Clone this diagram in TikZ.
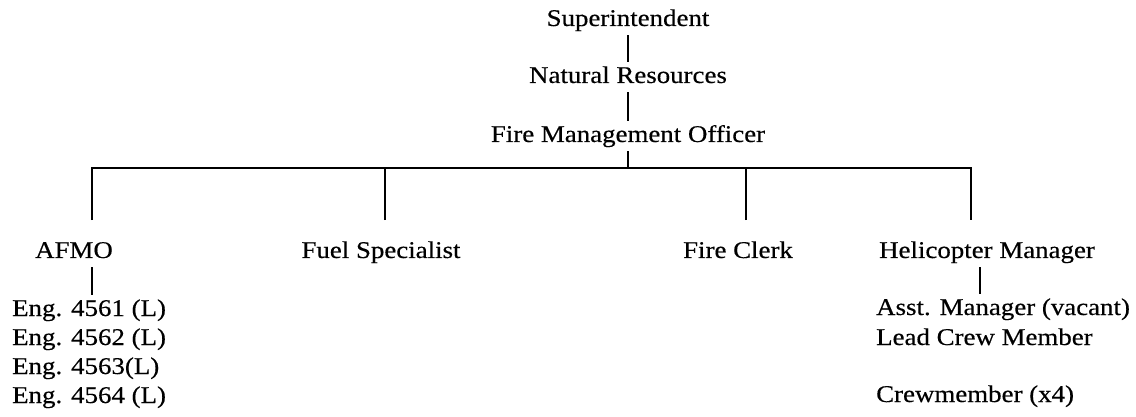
\documentclass[tikz,border=0pt]{standalone}
\usepackage{fontspec}
\setmainfont[FakeStretch=1.12,FakeBold=0.4]{Liberation Serif}
\tikzset{
  post/.style={shape=rectangle,inner xsep=0pt,inner ysep=4pt,text height=17pt,text depth=5pt,font=\fontsize{24}{29}\selectfont},
  link/.style={draw=black,line width=1.7pt}
}
\begin{document}
\begin{tikzpicture}[x=1pt,y=-1pt]
  \useasboundingbox (0,0) rectangle (1136,417);

  \node[post,anchor=base] (sup) at (628,26) {Superintendent};
  \node[post,anchor=base] (nat) at (628,83) {Natural Resources};
  \node[post,anchor=base] (fmo) at (628,142) {Fire Management Officer};

  \node[post,anchor=base] (afmo) at (74,258) {AFMO};
  \node[post,anchor=base] (fuel) at (381,258) {Fuel Specialist};
  \node[post,anchor=base] (clerk) at (738,258) {Fire Clerk};
  \node[post,anchor=base] (helo) at (987,258) {Helicopter Manager};

  \node[post,anchor=base west] (eng1) at (12,316) {Eng. 4561 (L)};
  \node[post,anchor=base west] (eng2) at (12,345) {Eng. 4562 (L)};
  \node[post,anchor=base west] (eng3) at (12,374) {Eng. 4563(L)};
  \node[post,anchor=base west] (eng4) at (12,403) {Eng. 4564 (L)};

  \node[post,anchor=base west] (asst) at (876,315) {Asst. Manager (vacant)};
  \node[post,anchor=base west] (lead) at (876,345) {Lead Crew Member};
  \node[post,anchor=base west] (crew) at (876,402) {Crewmember (x4)};

  \coordinate (bus) at (628,168);
  \coordinate (afmotop) at (92,220);
  \coordinate (fueltop) at (385,220);
  \coordinate (clerktop) at (746,220);
  \coordinate (helotop) at (971,220);

  \path[link] (sup) -- (nat);
  \path[link] (nat) -- (fmo);
  \path[link] (fmo) -- (bus);
  \path[link] (afmotop) -- (afmotop |- bus) -- (helotop |- bus) -- (helotop);
  \path[link] (fueltop) -- (fueltop |- bus);
  \path[link] (clerktop) -- (clerktop |- bus);

  \path[link] (afmo.south -| afmotop) -- (eng1.north -| afmotop);
  \path[link] ([xshift=-7pt]helo.south) -- ([xshift=-7pt]helo.south |- asst.north);
\end{tikzpicture}
\end{document}
